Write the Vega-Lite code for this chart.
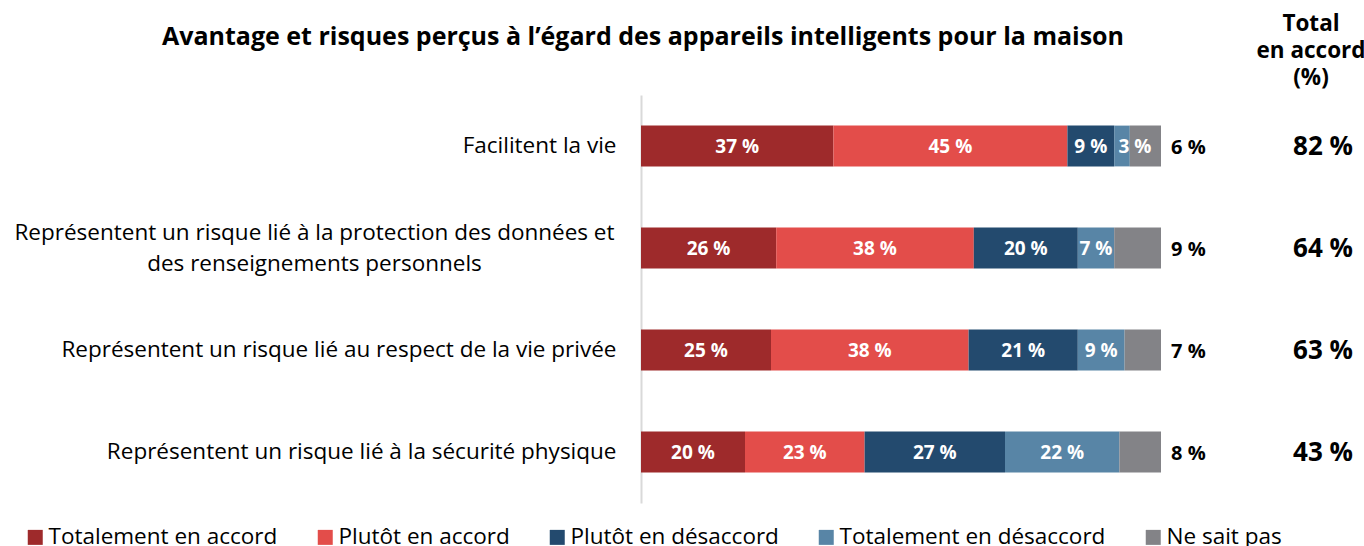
{
  "$schema": "https://vega.github.io/schema/vega-lite/v6.json",
  "autosize": {"type": "pad"},
  "padding": {"left": 13, "top": 12, "right": 0, "bottom": 0},
  "background": "white",
  "config": {
    "font": "Open Sans",
    "view": {"stroke": null},
    "concat": {"spacing": 102}
  },
  "datasets": {
    "bars": [
      {"item": "Facilitent la vie", "category": "Totalement en accord", "rank": 1, "value": 37},
      {"item": "Facilitent la vie", "category": "Plutôt en accord", "rank": 2, "value": 45},
      {"item": "Facilitent la vie", "category": "Plutôt en désaccord", "rank": 3, "value": 9},
      {"item": "Facilitent la vie", "category": "Totalement en désaccord", "rank": 4, "value": 3},
      {"item": "Facilitent la vie", "category": "Ne sait pas", "rank": 5, "value": 6},
      {"item": "Représentent un risque lié à la protection des données et des renseignements personnels", "category": "Totalement en accord", "rank": 1, "value": 26},
      {"item": "Représentent un risque lié à la protection des données et des renseignements personnels", "category": "Plutôt en accord", "rank": 2, "value": 38},
      {"item": "Représentent un risque lié à la protection des données et des renseignements personnels", "category": "Plutôt en désaccord", "rank": 3, "value": 20},
      {"item": "Représentent un risque lié à la protection des données et des renseignements personnels", "category": "Totalement en désaccord", "rank": 4, "value": 7},
      {"item": "Représentent un risque lié à la protection des données et des renseignements personnels", "category": "Ne sait pas", "rank": 5, "value": 9},
      {"item": "Représentent un risque lié au respect de la vie privée", "category": "Totalement en accord", "rank": 1, "value": 25},
      {"item": "Représentent un risque lié au respect de la vie privée", "category": "Plutôt en accord", "rank": 2, "value": 38},
      {"item": "Représentent un risque lié au respect de la vie privée", "category": "Plutôt en désaccord", "rank": 3, "value": 21},
      {"item": "Représentent un risque lié au respect de la vie privée", "category": "Totalement en désaccord", "rank": 4, "value": 9},
      {"item": "Représentent un risque lié au respect de la vie privée", "category": "Ne sait pas", "rank": 5, "value": 7},
      {"item": "Représentent un risque lié à la sécurité physique", "category": "Totalement en accord", "rank": 1, "value": 20},
      {"item": "Représentent un risque lié à la sécurité physique", "category": "Plutôt en accord", "rank": 2, "value": 23},
      {"item": "Représentent un risque lié à la sécurité physique", "category": "Plutôt en désaccord", "rank": 3, "value": 27},
      {"item": "Représentent un risque lié à la sécurité physique", "category": "Totalement en désaccord", "rank": 4, "value": 22},
      {"item": "Représentent un risque lié à la sécurité physique", "category": "Ne sait pas", "rank": 5, "value": 8}
    ],
    "totals": [
      {"item": "Facilitent la vie", "total": 82},
      {"item": "Représentent un risque lié à la protection des données et des renseignements personnels", "total": 64},
      {"item": "Représentent un risque lié au respect de la vie privée", "total": 63},
      {"item": "Représentent un risque lié à la sécurité physique", "total": 43}
    ]
  },
  "hconcat": [
    {
      "width": 520,
      "height": 408,
      "data": {"name": "bars"},
      "title": {
        "text": "Avantage et risques perçus à l’égard des appareils intelligents pour la maison",
        "fontSize": 25,
        "fontWeight": "bold",
        "color": "black",
        "anchor": "middle",
        "frame": "group",
        "dx": -258,
        "offset": 45
      },
      "transform": [
        {"stack": "value", "groupby": ["item"], "sort": [{"field": "rank", "order": "ascending"}], "as": ["s0", "s1"]},
        {"calculate": "(datum.s0 + datum.s1) / 2", "as": "mid"},
        {"calculate": "datum.value + ' %'", "as": "label"}
      ],
      "encoding": {
        "y": {
          "field": "item",
          "type": "nominal",
          "sort": null,
          "scale": {"paddingInner": 0.6, "paddingOuter": 0.3},
          "axis": {
            "title": null,
            "ticks": false,
            "domain": true,
            "domainColor": "#d9d9d9",
            "domainWidth": 2,
            "labelFontSize": 22.5,
            "labelColor": "black",
            "labelLimit": 700,
            "labelLineHeight": 31,
            "labelAlign": {"condition": {"test": "indexof(datum.value, 'protection') >= 0", "value": "center"}, "value": "right"},
            "labelPadding": {"condition": {"test": "indexof(datum.value, 'protection') >= 0", "value": 327}, "value": 25},
            "labelOffset": {"condition": {"test": "indexof(datum.value, 'protection') >= 0", "value": -15}, "value": 0},
            "labelExpr": "indexof(datum.value, 'protection') >= 0 ? ['Représentent un risque lié à la protection des données et', 'des renseignements personnels'] : datum.value"
          }
        }
      },
      "layer": [
        {
          "mark": {"type": "bar"},
          "encoding": {
            "x": {"field": "s0", "type": "quantitative", "scale": {"domain": [0, 100], "nice": false}, "axis": null},
            "x2": {"field": "s1"},
            "color": {
              "field": "category",
              "type": "nominal",
              "scale": {
                "domain": ["Totalement en accord", "Plutôt en accord", "Plutôt en désaccord", "Totalement en désaccord", "Ne sait pas"],
                "range": ["#9e2a2b", "#e34d4a", "#234a6e", "#5885a6", "#838387"]
              },
              "legend": {
                "title": null,
                "orient": "none",
                "legendX": -617,
                "legendY": 431,
                "direction": "horizontal",
                "labelFontSize": 22.5,
                "labelColor": "black",
                "labelLimit": 400,
                "symbolType": "square",
                "symbolSize": 225,
                "symbolStrokeWidth": 0,
                "labelOffset": 2,
                "columnPadding": 36
              }
            }
          }
        },
        {
          "transform": [{"filter": "datum.category != 'Ne sait pas' && datum.value >= 5"}],
          "mark": {"type": "text", "color": "white", "fontWeight": "bold", "fontSize": 19, "align": "center", "baseline": "middle", "dy": 1},
          "encoding": {
            "x": {"field": "mid", "type": "quantitative"},
            "text": {"field": "label"}
          }
        },
        {
          "transform": [{"filter": "datum.category != 'Ne sait pas' && datum.value < 5"}],
          "mark": {"type": "text", "color": "white", "fontWeight": "bold", "fontSize": 19, "align": "center", "baseline": "middle", "dy": 1, "dx": 13},
          "encoding": {
            "x": {"field": "mid", "type": "quantitative"},
            "text": {"field": "label"}
          }
        },
        {
          "transform": [{"filter": "datum.category == 'Ne sait pas'"}],
          "mark": {"type": "text", "color": "black", "fontWeight": "bold", "fontSize": 20, "align": "left", "baseline": "middle", "dx": 10, "dy": 2},
          "encoding": {
            "x": {"field": "s1", "type": "quantitative"},
            "text": {"field": "label"}
          }
        }
      ]
    },
    {
      "width": 96,
      "height": 408,
      "data": {"name": "totals"},
      "title": {
        "text": ["Total", "en accord", "(%)"],
        "fontSize": 22.5,
        "fontWeight": "bold",
        "color": "black",
        "lineHeight": 27,
        "anchor": "middle",
        "offset": 6
      },
      "transform": [{"calculate": "datum.total + ' %'", "as": "label"}],
      "mark": {"type": "text", "fontWeight": "bold", "fontSize": 26, "color": "black", "align": "center", "baseline": "middle", "dx": 12, "dy": 1},
      "encoding": {
        "y": {"field": "item", "type": "nominal", "sort": null, "axis": null, "scale": {"paddingInner": 0.6, "paddingOuter": 0.3}},
        "text": {"field": "label"}
      }
    }
  ],
  "bounds": "flush"
}
